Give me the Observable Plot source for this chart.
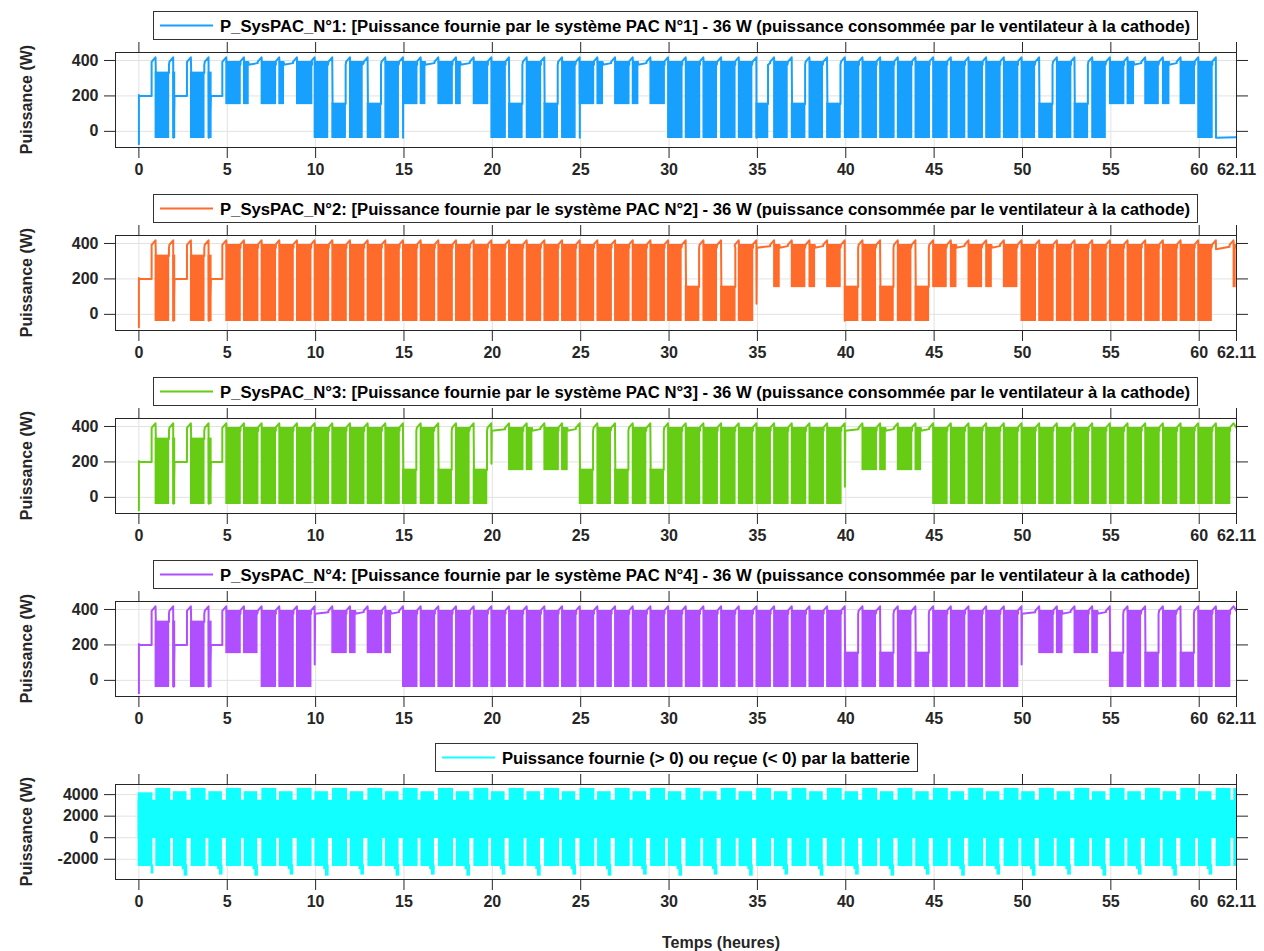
<!DOCTYPE html>
<html><head><meta charset="utf-8">
<script src="https://cdn.jsdelivr.net/npm/d3@7"></script>
<script src="https://cdn.jsdelivr.net/npm/@observablehq/plot@0.6"></script>
<style>
html,body{margin:0;padding:0;background:#fff;}
body{width:1264px;height:951px;overflow:hidden;position:relative;font-family:"Liberation Sans",Arial,sans-serif;}
.panel{position:absolute;left:0;}
.panel svg{overflow:visible;}
#overlay{position:absolute;left:0;top:0;}
</style></head><body>
<div id="root"></div>
<script>
// ---------------- DATA ----------------
const tEnd = 62.11;
const xTickVals = [0,5,10,15,20,25,30,35,40,45,50,55,60,62.11];
const pacTicks = [0,200,400];
const batTicks = [-2000,0,2000,4000];
const pacDomain = [-91,445];
const batDomain = [-3880,4940];

const pacNames = [
  "P_SysPAC_N°1: [Puissance fournie par le système PAC N°1] - 36 W (puissance consommée par le ventilateur à la cathode)",
  "P_SysPAC_N°2: [Puissance fournie par le système PAC N°2] - 36 W (puissance consommée par le ventilateur à la cathode)",
  "P_SysPAC_N°3: [Puissance fournie par le système PAC N°3] - 36 W (puissance consommée par le ventilateur à la cathode)",
  "P_SysPAC_N°4: [Puissance fournie par le système PAC N°4] - 36 W (puissance consommée par le ventilateur à la cathode)"
];
const batName = "Puissance fournie (> 0) ou reçue (< 0) par la batterie";
const pacColors = ["#17a0fe","#ff6b2b","#66cc14","#af4fff"];
const batColor = "#11ffff";

// block levels (W): [bottom, top] of the fast on/off oscillation bands
const pacLevels = {T:[-36,390], M:[-36,155], U:[155,390], E:[-36,330]};

// hourly state per PAC system (hour 0..62). Letter = band, number = duration (h/100)
// F = idle at 200 W, S = single drop to given W, Z = stop (-36 W), R = rest, "-" = rise only, "!" = drop to -36 W first
const pac1Hours = "F E70 F04 E70 F10 U75 U20 U75 U20 U80 T70 M70 T65 M70 T70 U75! U20 U75 U20 U75 T75 M70 T75 M70 T70 U75! U25 U75 U25 U75 T75 T75 T70 T75 T70 M60! T70 M70 T70 M70 T75 T75 T75 T75 T75 T75 T75 T75 T75 T75 T70 M70 T75 M70 T70 U75 U30 U70 U30 U75 T75 Z".split(" ");
const pac2Hours = "F E70 F04 E70 F10 T75 T75 T75 T75 T75 T75 T75 T75 T75 T75 T75 T75 T75 T75 T75 T75 T75 T75 T75 T75 T75 T75 T75 T75 T75 T70 M70 T70 M75 T75 S60 U25 U70 U25 U70 M70! T70 M70 T70 M70 U70 U25 U70 U25 U70 T75 T75 T75 T75 T75 T75 T75 T75 T75 T75 T70 R U05".split(" ");
const pac3Hours = "F E70 F04 E70 F10 T75 T75 T75 T75 T75 T75 T75 T75 T75 T75 M70 T70 M70 T70 M70 S190 U75 U25 U75 U25 M70 T70 M70 T70 M70 T75 T75 T75 T75 T75 T75 T75 T75 T75 T75 S60 U75 U25 U75 U25 T75 T75 T75 T75 T75 T75 T75 T75 T75 T75 T75 T75 T75 T75 T75 T75 T75 -".split(" ");
const pac4Hours = "F E70 F04 E70 F10 U75 U70 T75 T75 T75 S90 U75 U25 U75 U25 T75 T75 T75 T75 T75 T75 T75 T75 T75 T75 T75 T75 T75 T75 T75 T75 T75 T75 T75 T75 T75 T75 T75 T75 T75 M70 T70 M70 T70 M70 T75 T75 T75 T75 T75 S90 U75 U25 U75 U25 M70 T70 M70 T70 M70 T75 T75 -".split(" ");
const pacHours = [pac1Hours, pac2Hours, pac3Hours, pac4Hours];

// battery: per-hour peak power (W), pulse duration (h), and discharge dips
const batTop = [4100,4500,4200,4500,4200,4500,4200,4500,4200,4500,4200,4500,4200,4500,4200,4500,4200,4500,4200,4500,4200,4500,4200,4500,4200,4500,4200,4500,4200,4500,4200,4500,4200,4500,4200,4500,4200,4500,4200,4500,4200,4500,4200,4500,4200,4500,4200,4500,4200,4500,4200,4500,4200,4500,4200,4500,4200,4500,4200,4500,4200,4500,4500];
const batLen = [0.75,0.76,0.68,0.76,0.68,0.76,0.68,0.76,0.68,0.76,0.68,0.76,0.68,0.76,0.68,0.76,0.68,0.76,0.68,0.76,0.68,0.76,0.68,0.76,0.68,0.76,0.68,0.76,0.68,0.76,0.68,0.76,0.68,0.76,0.68,0.76,0.68,0.76,0.68,0.76,0.68,0.76,0.68,0.76,0.68,0.76,0.68,0.76,0.68,0.76,0.68,0.76,0.68,0.76,0.68,0.76,0.68,0.76,0.68,0.76,0.68,0.76,0.11];
const batLow = -2600;
const batBase = [0, 3400];
const batDip = [-3400,-3500,-3400,-3500,-3400,-3500,-3400,-3500,-3400,-3500,-3400,-3500,-3400,-3500,-3400,-3500,-3400,-3500,-3400,-3500,-3400,-3500,-3400,-3500,-3400,-3500,-3400,-3500,-3400,-3500,-3400];

// ---------------- BUILD ----------------
function buildPac(tokens){
  const pts = [], blocks = [];
  let level = 200;
  tokens.forEach((tok, h) => {
    if (h === 0){ pts.push({t:0,w:-72},{t:0,w:205},{t:0.03,w:200}); level = 200; return; }
    const kind = tok[0];
    const spike = tok.endsWith("!");
    const num = parseInt(tok.slice(1)) || 0;
    pts.push({t:h-0.28,w:level},{t:h-0.28,w:392},{t:h-0.06,w:418});
    if (spike) pts.push({t:h-0.05,w:-36});
    if (kind === "F"){
      if (num > 0){ blocks.push({t1:h-0.04,t2:h+num/100,lo:-36,hi:330}); pts.push({t:h-0.04,w:-36}); }
      pts.push({t:h-0.03+num/100,w:200},{t:h+0.72,w:200}); level = 200;
    } else if (kind === "S"){
      pts.push({t:h-0.05,w:num},{t:h-0.03,w:376}); level = 385;
    } else if (kind === "Z"){
      pts.push({t:h-0.05,w:-36},{t:tEnd,w:-33});
    } else if (kind === "R"){
      pts.push({t:h-0.05,w:368}); level = 382;
    } else if (kind === "-"){
      pts.push({t:tEnd,w:392});
    } else {
      const [lo,hi] = pacLevels[kind]; const L = num/100;
      const t2 = Math.min(h+L, tEnd);
      blocks.push({t1:h-0.04,t2,lo,hi});
      pts.push({t:h-0.04,w:hi},{t:t2,w:hi},{t:t2,w:376}); level = 385;
    }
  });
  return {pts: pts.filter(d => d.t <= tEnd), blocks};
}

function buildBat(){
  const blocks = [];
  blocks.push({t1:0,t2:tEnd,lo:batBase[0],hi:batBase[1]});
  batTop.forEach((top,h) => blocks.push({t1:h,t2:Math.min(h+batLen[h],tEnd),lo:batLow,hi:top}));
  batDip.forEach((d,i) => {
    const h = 2*i;
    if (h===0) blocks.push({t1:0.74,t2:0.8,lo:-3300,hi:batLow});
    else { blocks.push({t1:h+0.5,t2:h+0.7,lo:-2900,hi:batLow}); blocks.push({t1:h+0.6,t2:h+0.72,lo:d,hi:batLow}); }
  });
  return blocks;
}

// ---------------- LAYOUT ----------------
const boxTops = [52,235,418,601,784];
const boxH = 95, mt = 14, mb = 44;
const ink = "#262626";
const fmtX = d => d === 62.11 ? "62.11" : String(d);
const txt = {fontSize:16, fontWeight:"bold"};

function panel(i, yDomain, yTicks, marks){
  const svg = Plot.plot({
    width:1264, height:mt+boxH+mb,
    marginLeft:115, marginRight:28, marginTop:mt, marginBottom:mb,
    x:{domain:[-1.324, tEnd]},
    y:{domain:yDomain},
    style:{fontFamily:'"Liberation Sans", Arial, sans-serif', fontSize:"16px", fontWeight:"bold", color:ink, background:"transparent"},
    marks:[
      Plot.gridX({ticks:xTickVals, stroke:"#e2e2e2", strokeOpacity:1}),
      Plot.gridY({ticks:yTicks, stroke:"#e2e2e2", strokeOpacity:1}),
      ...marks,
      Plot.frame({stroke:ink}),
      Plot.axisX({ticks:xTickVals, tickFormat:fmtX, tickSize:11, tickPadding:5, label:null, ...txt}),
      Plot.axisX({anchor:"top", ticks:xTickVals, tickFormat:() => "", tickSize:11, label:null}),
      Plot.axisY({ticks:yTicks, tickFormat:d => String(d), tickSize:11, tickPadding:6, label:null, ...txt}),
      Plot.axisY({anchor:"right", ticks:yTicks, tickFormat:() => "", tickSize:11, label:null})
    ]
  });
  const div = document.createElement("div");
  div.className = "panel";
  div.style.top = (boxTops[i]-mt) + "px";
  div.appendChild(svg);
  document.getElementById("root").appendChild(div);
}

pacHours.forEach((tokens,i) => {
  const {pts, blocks} = buildPac(tokens);
  panel(i, pacDomain, pacTicks, [
    Plot.rect(blocks, {x1:"t1", x2:"t2", y1:"lo", y2:"hi", fill:pacColors[i], stroke:pacColors[i], strokeWidth:1.5, clip:true}),
    Plot.line(pts, {x:"t", y:"w", stroke:pacColors[i], strokeWidth:2, clip:true})
  ]);
});
panel(4, batDomain, batTicks, [
  Plot.rect(buildBat(), {x1:"t1", x2:"t2", y1:"lo", y2:"hi", fill:batColor, stroke:batColor, strokeWidth:1.5, clip:true})
]);

// overlay: legends, y labels, x title
const ns = "http://www.w3.org/2000/svg";
const ov = document.createElementNS(ns,"svg");
ov.setAttribute("id","overlay"); ov.setAttribute("width",1264); ov.setAttribute("height",951);
document.body.appendChild(ov);
function el(name, attrs, text){
  const e = document.createElementNS(ns,name);
  for (const k in attrs) e.setAttribute(k, attrs[k]);
  if (text != null) e.textContent = text;
  ov.appendChild(e); return e;
}
const legends = pacNames.map((n,i) => ({name:n, color:pacColors[i], x:153, w:1044, tl:970}))
  .concat([{name:batName, color:batColor, x:435, w:482, tl:408}]);
legends.forEach((lg,i) => {
  const y = boxTops[i]-41;
  el("rect",{x:lg.x+0.5,y:y+0.5,width:lg.w,height:28,fill:"#fff",stroke:"#333","stroke-width":1});
  el("line",{x1:lg.x+7,x2:lg.x+60,y1:y+14.5,y2:y+14.5,stroke:lg.color,"stroke-width":2});
  el("text",{x:lg.x+67,y:y+20.5,"font-size":16,"font-weight":"bold",fill:"#000",textLength:lg.tl,lengthAdjust:"spacingAndGlyphs","font-family":'"Liberation Sans", Arial, sans-serif'}, lg.name);
  const cy = boxTops[i]+boxH/2;
  el("text",{x:0,y:0,transform:`translate(32,${cy}) rotate(-90)`,"text-anchor":"middle","font-size":16,"font-weight":"bold",fill:ink,"font-family":'"Liberation Sans", Arial, sans-serif'}, "Puissance (W)");
});
el("text",{x:721,y:948,"text-anchor":"middle","font-size":16,"font-weight":"bold",fill:ink,"font-family":'"Liberation Sans", Arial, sans-serif'}, "Temps (heures)");
</script>
</body></html>
